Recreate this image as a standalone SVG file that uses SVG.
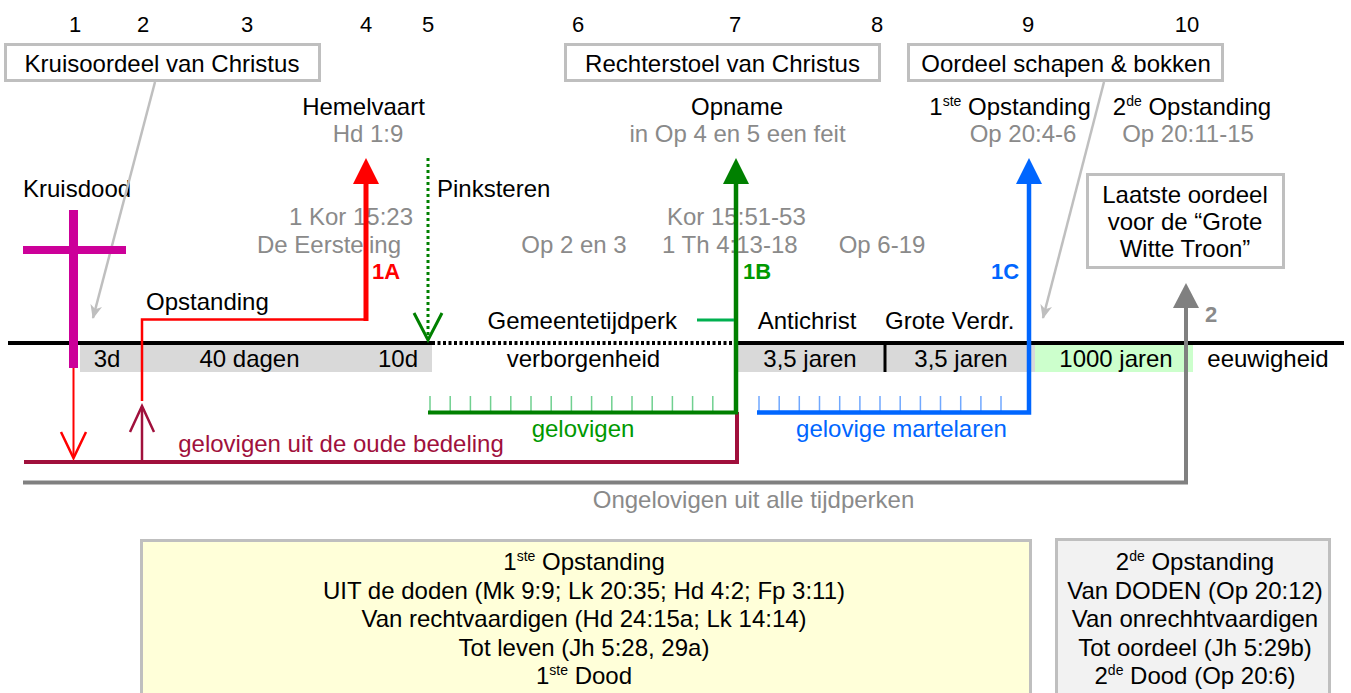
<svg xmlns="http://www.w3.org/2000/svg" width="1351" height="693" viewBox="0 0 1351 693">
<defs>
<style>
text{font-family:"Liberation Sans",Arial,sans-serif;font-size:24px;fill:#000}
.c{text-anchor:middle}
.e{text-anchor:end}
.g{fill:#8a8a8a}
.num{font-size:22px}
.b{font-weight:bold;font-size:22px}
.box{fill:#fff;stroke:#bfbfbf;stroke-width:3}
.sup{font-size:14px}
.conn{fill:none;stroke:#bfbfbf;stroke-width:2.5}
</style>
<marker id="ga" viewBox="0 0 14 12" refX="13" refY="6" markerWidth="14" markerHeight="12" markerUnits="userSpaceOnUse" orient="auto">
<path d="M0,0 L14,6 L0,12 L4,6 z" fill="#bfbfbf"/>
</marker>
</defs>
<rect width="1351" height="693" fill="#fff"/>

<g id="timeline">
<rect x="80" y="345" width="352" height="27" fill="#d9d9d9"/>
<rect x="737" y="345" width="298" height="27" fill="#d9d9d9"/>
<rect x="1035" y="345" width="158" height="27" fill="#ccffcc"/>
<path d="M8 343 H432 M737 343 H1344" stroke="#000" stroke-width="4"/>
<path d="M432 343 H737" stroke="#000" stroke-width="4" stroke-dasharray="3 2.5"/>
<path d="M885 345 V372" stroke="#000" stroke-width="3"/>
<text class="c" x="107" y="367">3d</text>
<text class="c" x="249.5" y="367">40 dagen</text>
<text class="c" x="398" y="367">10d</text>
<text class="c" x="583.5" y="367">verborgenheid</text>
<text class="c" x="810" y="367">3,5 jaren</text>
<text class="c" x="961" y="367">3,5 jaren</text>
<text class="c" x="1116" y="367">1000 jaren</text>
<text class="c" x="1268" y="367">eeuwigheid</text>
</g>

<g id="numbers">
<text class="c num" x="75" y="32">1</text>
<text class="c num" x="143" y="32">2</text>
<text class="c num" x="247" y="32">3</text>
<text class="c num" x="366" y="32">4</text>
<text class="c num" x="428" y="32">5</text>
<text class="c num" x="578" y="32">6</text>
<text class="c num" x="735" y="32">7</text>
<text class="c num" x="877" y="32">8</text>
<text class="c num" x="1028" y="32">9</text>
<text class="c num" x="1187" y="32">10</text>
</g>

<g id="kruisoordeel">
<rect class="box" x="5.5" y="44.5" width="314" height="36"/>
<text class="c" x="162" y="72">Kruisoordeel van Christus</text>
</g>
<g id="rechterstoel">
<rect class="box" x="565.5" y="44.5" width="314" height="36"/>
<text class="c" x="722.5" y="72">Rechterstoel van Christus</text>
</g>
<g id="schapen-bokken">
<rect class="box" x="908.5" y="44.5" width="314" height="36"/>
<text class="c" x="1066" y="72">Oordeel schapen &amp; bokken</text>
</g>
<g id="laatste-oordeel">
<rect class="box" x="1087.5" y="174.5" width="196" height="93"/>
<text class="c" x="1185" y="203">Laatste oordeel</text>
<text class="c" x="1185" y="230">voor de “Grote</text>
<text class="c" x="1185" y="257">Witte Troon”</text>
</g>

<g id="hemelvaart">
<text class="c" x="363.5" y="115">Hemelvaart</text>
<text class="c g" x="368" y="142">Hd 1:9</text>
<text class="c g" x="351" y="225">1 Kor 15:23</text>
<text class="c g" x="329" y="253">De Eersteling</text>
<text class="b" x="372" y="279" fill="#ff0000" style="fill:#ff0000">1A</text>
</g>
<g id="opname">
<text class="c" x="737" y="115">Opname</text>
<text class="c g" x="737.5" y="142">in Op 4 en 5 een feit</text>
<text class="g" x="667" y="225">Kor 15:51-53</text>
<text class="g" x="662" y="253">1 Th 4:13-18</text>
<text class="c g" x="574" y="253">Op 2 en 3</text>
<text class="c g" x="882" y="253">Op 6-19</text>
<text class="b" x="743" y="279" style="fill:#009900">1B</text>
</g>
<g id="opstanding1">
<text class="c" x="1010" y="115">1<tspan class="sup" dy="-9">ste</tspan><tspan dy="9"> Opstanding</tspan></text>
<text class="c g" x="1023" y="142">Op 20:4-6</text>
<text class="b" x="991" y="279" style="fill:#0066ff">1C</text>
</g>
<g id="opstanding2">
<text class="c" x="1192" y="115">2<tspan class="sup" dy="-9">de</tspan><tspan dy="9"> Opstanding</tspan></text>
<text class="c g" x="1188" y="142">Op 20:11-15</text>
<text class="b" x="1205" y="322" style="fill:#8a8a8a">2</text>
</g>
<g id="kruisdood">
<text x="23" y="197">Kruisdood</text>
</g>
<g id="pinksteren">
<text x="437" y="197">Pinksteren</text>
</g>
<g id="opstanding">
<text x="146" y="310">Opstanding</text>
</g>
<g id="periods">
<text class="e" x="677" y="329">Gemeentetijdperk</text>
<text class="c" x="807" y="329">Antichrist</text>
<text x="885" y="329">Grote Verdr.</text>
</g>
<g id="groups">
<text class="c" x="341" y="452" style="fill:#a0103c">gelovigen uit de oude bedeling</text>
<text class="c" x="583" y="437" style="fill:#009900">gelovigen</text>
<text class="c" x="901.5" y="437" style="fill:#0066ff">gelovige martelaren</text>
<text class="c g" x="753.5" y="508">Ongelovigen uit alle tijdperken</text>
</g>

<g id="connectors">
<path class="conn" d="M155 82 L93 318" marker-end="url(#ga)"/>
<path class="conn" d="M1104 82 L1043 318" marker-end="url(#ga)"/>
<!-- gray ongelovigen -->
<path d="M23 482.5 H1186 V306" fill="none" stroke="#808080" stroke-width="4"/>
<polygon points="1173,308 1186,283 1199,308" fill="#808080"/>
<!-- maroon -->
<path d="M24 462 H737 V412" fill="none" stroke="#a0103c" stroke-width="4"/>
<path d="M142 462 V407" fill="none" stroke="#a0103c" stroke-width="2.5"/>
<polyline points="130,432 142,406 154,432" fill="none" stroke="#a0103c" stroke-width="2.5"/>
<!-- red -->
<path d="M73.5 368 V457" fill="none" stroke="#ff0000" stroke-width="2"/>
<polyline points="61,432 73.5,458 86,432" fill="none" stroke="#ff0000" stroke-width="2.5"/>
<path d="M142 401 V319.5 H367" fill="none" stroke="#ff0000" stroke-width="2.5"/>
<path d="M366 321 V182" fill="none" stroke="#ff0000" stroke-width="5"/>
<polygon points="353,184 366,158 379,184" fill="#ff0000"/>
<!-- green -->
<path d="M430 396 V411 M450.2 396 V411 M470.4 396 V411 M490.6 396 V411 M510.8 396 V411 M531 396 V411 M551.2 396 V411 M571.4 396 V411 M591.6 396 V411 M611.8 396 V411 M632 396 V411 M652.2 396 V411 M672.4 396 V411 M692.6 396 V411 M712.8 396 V411" stroke="#70d090" stroke-width="1.5"/>
<path d="M428 412.5 H738" stroke="#008000" stroke-width="4"/>
<path d="M736 414 V182" stroke="#008000" stroke-width="4.5"/>
<polygon points="723,184 736,158 749,184" fill="#008000"/>
<path d="M428 158 V338" stroke="#008000" stroke-width="3" stroke-dasharray="3 3"/>
<polyline points="414,313 428,340 442,313" fill="none" stroke="#008000" stroke-width="3"/>
<path d="M697 320 H734" stroke="#00b050" stroke-width="3"/>
<!-- blue -->
<path d="M759 396 V411 M779.2 396 V411 M799.3 396 V411 M819.5 396 V411 M839.7 396 V411 M859.9 396 V411 M880 396 V411 M900.2 396 V411 M920.4 396 V411 M940.5 396 V411 M960.7 396 V411 M980.9 396 V411 M1001 396 V411" stroke="#70a8ff" stroke-width="1.5"/>
<path d="M757 412.5 H1029 V182" fill="none" stroke="#0066ff" stroke-width="4.5"/>
<polygon points="1016,184 1029,158 1042,184" fill="#0066ff"/>
</g>

<g id="cross">
<rect x="69" y="210" width="9" height="158" fill="#cc0099"/>
<rect x="23" y="246" width="103" height="8" fill="#cc0099"/>
</g>

<g id="eerste-opstanding">
<rect x="141.5" y="540.5" width="889" height="170" fill="#ffffd9" stroke="#bfbfbf" stroke-width="3"/>
<text class="c" x="584" y="570">1<tspan class="sup" dy="-9">ste</tspan><tspan dy="9"> Opstanding</tspan></text>
<text class="c" x="584" y="598.5">UIT de doden (Mk 9:9; Lk 20:35; Hd 4:2; Fp 3:11)</text>
<text class="c" x="584" y="627">Van rechtvaardigen (Hd 24:15a; Lk 14:14)</text>
<text class="c" x="584" y="655.5">Tot leven (Jh 5:28, 29a)</text>
<text class="c" x="584" y="684">1<tspan class="sup" dy="-9">ste</tspan><tspan dy="9"> Dood</tspan></text>
</g>
<g id="tweede-opstanding">
<rect x="1056.5" y="539.5" width="273" height="170" fill="#f2f2f2" stroke="#bfbfbf" stroke-width="3"/>
<text class="c" x="1195" y="570">2<tspan class="sup" dy="-9">de</tspan><tspan dy="9"> Opstanding</tspan></text>
<text class="c" x="1195" y="598.5">Van DODEN (Op 20:12)</text>
<text class="c" x="1195" y="627">Van onrechhtvaardigen</text>
<text class="c" x="1195" y="655.5">Tot oordeel (Jh 5:29b)</text>
<text class="c" x="1195" y="684">2<tspan class="sup" dy="-9">de</tspan><tspan dy="9"> Dood (Op 20:6)</tspan></text>
</g>
</svg>
